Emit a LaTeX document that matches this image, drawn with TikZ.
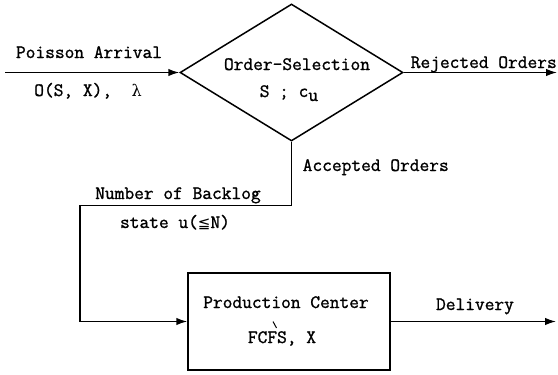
\documentclass[tikz,border=0pt]{standalone}
\usepackage{fontspec}
\setmonofont{Latin Modern Mono}[FakeBold=1.2]
\newfontfamily\symfont{DejaVu Sans}
\newfontfamily\grkfont{DejaVu Serif}
\usetikzlibrary{arrows.meta,shapes.geometric}

\begin{document}
\begin{tikzpicture}[x=1pt,y=-1pt,line width=1.5pt,
  font=\ttfamily\fontsize{18.9}{20}\selectfont,
  flow/.style={-{Latex[length=11pt,width=7.5pt]}},
  txt/.style={inner sep=0pt,anchor=base},
  txtw/.style={inner sep=0pt,anchor=base west}]
\useasboundingbox (0,0) rectangle (558,375);

% blocks
\node[draw,diamond,minimum width=223pt,minimum height=137pt,inner sep=0pt] (sel) at (291.5,72.5) {};
\node[draw,rectangle,minimum width=202pt,minimum height=97pt,inner sep=0pt] (pc) at (289,321.5) {};

% free ends and bends of the connectors
\coordinate (src) at (5,72.5);
\coordinate (rej) at (557,72.5);
\coordinate (bend) at (80,205.5);
\coordinate (dlv) at (556,321.5);

% connectors
\draw[flow] (src) -- (sel.west);
\draw[flow] (sel.east) -- (rej);
\draw[flow] (sel.south) |- (bend) |- (pc.west);
\draw[flow] (pc.east) -- (dlv);

% labels
\node[txt] (arr) at (89,58) {Poisson Arrival};
\node[txt] (lam) at (88,96) {O(S,~X),~~{\grkfont\fontsize{16}{18}\selectfont λ}};
\node[txt] (selA) at (297,70) {Order-Selection};
\node[txtw] (selB) at (259,97) {S ; c\raisebox{-4pt}{u}};
\node[txtw] (rejL) at (410,68) {Rejected Orders};
\node[txtw] (accL) at (302,171) {Accepted Orders};
\node[txt] (bkA) at (178,199) {Number of Backlog};
\node[txt] (bkB) at (175,228) {state u({\symfont\fontsize{15}{18}\selectfont ≦}N)};
\node[txt] (pcA) at (286,308) {Production Center};
\node[txt] (pcB) at (282,343) {FCFS, X};
% stray accent stroke over the S of FCFS
\draw[line width=1pt] (273,321.5) -- (276.5,328);
\node[txt] (dlvL) at (475,310) {Delivery};
\end{tikzpicture}
\end{document}
